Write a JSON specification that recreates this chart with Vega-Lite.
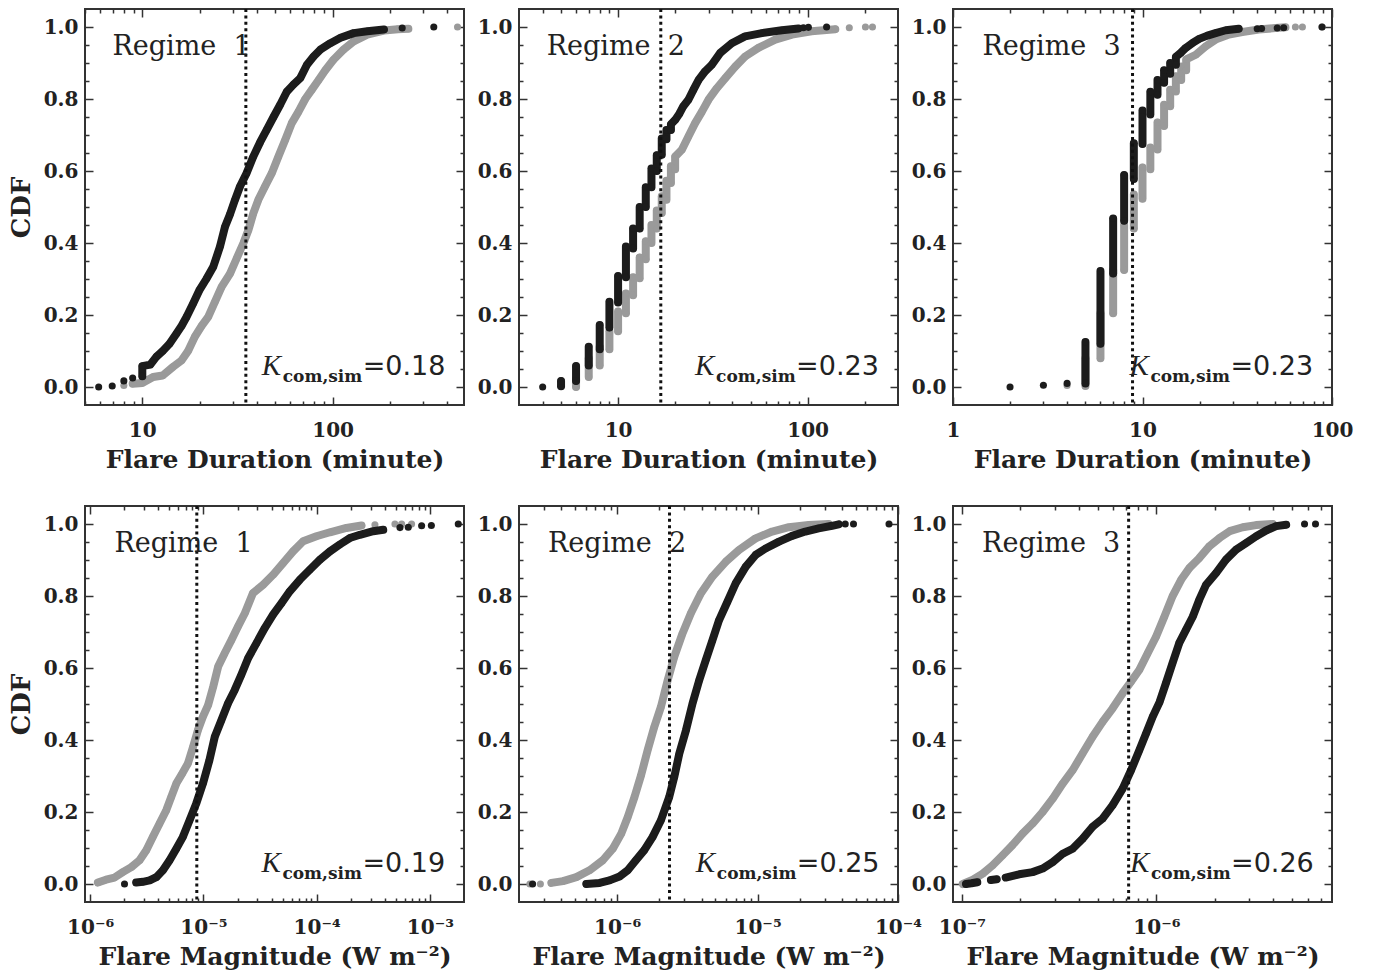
{
"$schema":"https://vega.github.io/schema/vega-lite/v6.json",
"padding":{"left":7,"top":6,"right":5,"bottom":5},
"background":"white",
"columns":3,
"spacing":{"row":101,"column":55},
"bounds":"flush",
"data":{"values":[
{"p":1,"s":"b","r":0,"x":5.9,"y":0},{"p":1,"s":"b","r":0,"x":6.95,"y":0.003},{"p":1,"s":"b","r":0,"x":8,"y":0.017},{"p":1,"s":"b","r":0,"x":8.9,"y":0.025},
{"p":1,"s":"b","r":1,"x":10,"y":0.03},{"p":1,"s":"b","r":1,"x":10,"y":0.058},{"p":1,"s":"b","r":1,"x":11,"y":0.062},{"p":1,"s":"b","r":1,"x":11.9,"y":0.085},{"p":1,"s":"b","r":1,"x":12.8,"y":0.1},{"p":1,"s":"b","r":1,"x":13.9,"y":0.12},{"p":1,"s":"b","r":1,"x":15.1,"y":0.148},{"p":1,"s":"b","r":1,"x":16.1,"y":0.17},{"p":1,"s":"b","r":1,"x":17.1,"y":0.195},{"p":1,"s":"b","r":1,"x":18.5,"y":0.232},{"p":1,"s":"b","r":1,"x":20,"y":0.27},{"p":1,"s":"b","r":1,"x":21.7,"y":0.3},{"p":1,"s":"b","r":1,"x":23.6,"y":0.334},{"p":1,"s":"b","r":1,"x":25.6,"y":0.39},{"p":1,"s":"b","r":1,"x":27.2,"y":0.445},{"p":1,"s":"b","r":1,"x":28.9,"y":0.48},{"p":1,"s":"b","r":1,"x":30.7,"y":0.52},{"p":1,"s":"b","r":1,"x":32.6,"y":0.557},{"p":1,"s":"b","r":1,"x":35.3,"y":0.594},{"p":1,"s":"b","r":1,"x":38.3,"y":0.64},{"p":1,"s":"b","r":1,"x":41.6,"y":0.68},{"p":1,"s":"b","r":1,"x":45.1,"y":0.715},{"p":1,"s":"b","r":1,"x":48.9,"y":0.75},{"p":1,"s":"b","r":1,"x":53,"y":0.784},{"p":1,"s":"b","r":1,"x":57.4,"y":0.82},{"p":1,"s":"b","r":1,"x":62.2,"y":0.84},{"p":1,"s":"b","r":1,"x":67.6,"y":0.858},{"p":1,"s":"b","r":1,"x":73.3,"y":0.895},{"p":1,"s":"b","r":1,"x":79.4,"y":0.918},{"p":1,"s":"b","r":1,"x":86.1,"y":0.937},{"p":1,"s":"b","r":1,"x":97.3,"y":0.955},{"p":1,"s":"b","r":1,"x":110,"y":0.97},{"p":1,"s":"b","r":1,"x":129,"y":0.983},{"p":1,"s":"b","r":1,"x":152,"y":0.988},{"p":1,"s":"b","r":1,"x":186,"y":0.993},
{"p":1,"s":"b","r":0,"x":232,"y":0.997},{"p":1,"s":"b","r":0,"x":340,"y":1},
{"p":1,"s":"g","r":0,"x":8,"y":0.004},
{"p":1,"s":"g","r":1,"x":8.9,"y":0.009},{"p":1,"s":"g","r":1,"x":10,"y":0.011},{"p":1,"s":"g","r":1,"x":11.4,"y":0.028},{"p":1,"s":"g","r":1,"x":12.8,"y":0.032},{"p":1,"s":"g","r":1,"x":14.5,"y":0.056},{"p":1,"s":"g","r":1,"x":16.1,"y":0.074},{"p":1,"s":"g","r":1,"x":17.4,"y":0.1},{"p":1,"s":"g","r":1,"x":18.9,"y":0.14},{"p":1,"s":"g","r":1,"x":20.5,"y":0.17},{"p":1,"s":"g","r":1,"x":22.2,"y":0.195},{"p":1,"s":"g","r":1,"x":24.1,"y":0.237},{"p":1,"s":"g","r":1,"x":26.1,"y":0.278},{"p":1,"s":"g","r":1,"x":28.9,"y":0.315},{"p":1,"s":"g","r":1,"x":31.3,"y":0.357},{"p":1,"s":"g","r":1,"x":34,"y":0.4},{"p":1,"s":"g","r":1,"x":36.1,"y":0.436},{"p":1,"s":"g","r":1,"x":38.3,"y":0.482},{"p":1,"s":"g","r":1,"x":40.7,"y":0.52},{"p":1,"s":"g","r":1,"x":44.1,"y":0.557},{"p":1,"s":"g","r":1,"x":47.9,"y":0.594},{"p":1,"s":"g","r":1,"x":51.9,"y":0.64},{"p":1,"s":"g","r":1,"x":56.3,"y":0.686},{"p":1,"s":"g","r":1,"x":61,"y":0.733},{"p":1,"s":"g","r":1,"x":66.2,"y":0.765},{"p":1,"s":"g","r":1,"x":71.8,"y":0.8},{"p":1,"s":"g","r":1,"x":77.8,"y":0.826},{"p":1,"s":"g","r":1,"x":84.4,"y":0.853},{"p":1,"s":"g","r":1,"x":91.5,"y":0.88},{"p":1,"s":"g","r":1,"x":101,"y":0.909},{"p":1,"s":"g","r":1,"x":114,"y":0.937},{"p":1,"s":"g","r":1,"x":129,"y":0.96},{"p":1,"s":"g","r":1,"x":152,"y":0.979},{"p":1,"s":"g","r":1,"x":186,"y":0.99},{"p":1,"s":"g","r":1,"x":220,"y":0.994},{"p":1,"s":"g","r":1,"x":250,"y":0.995},
{"p":1,"s":"g","r":0,"x":453,"y":1},

{"p":2,"s":"b","r":0,"x":4,"y":0},
{"p":2,"s":"b","r":1,"x":5,"y":0.002},{"p":2,"s":"b","r":1,"x":5,"y":0.017},
{"p":2,"s":"b","r":2,"x":6,"y":0.017},{"p":2,"s":"b","r":2,"x":6,"y":0.058},
{"p":2,"s":"b","r":3,"x":7,"y":0.06},{"p":2,"s":"b","r":3,"x":7,"y":0.112},
{"p":2,"s":"b","r":4,"x":8,"y":0.105},{"p":2,"s":"b","r":4,"x":8,"y":0.172},
{"p":2,"s":"b","r":5,"x":9,"y":0.165},{"p":2,"s":"b","r":5,"x":9,"y":0.237},
{"p":2,"s":"b","r":6,"x":10,"y":0.235},{"p":2,"s":"b","r":6,"x":10,"y":0.308},
{"p":2,"s":"b","r":7,"x":11,"y":0.305},{"p":2,"s":"b","r":7,"x":11,"y":0.39},
{"p":2,"s":"b","r":8,"x":12,"y":0.385},{"p":2,"s":"b","r":8,"x":12,"y":0.44},
{"p":2,"s":"b","r":9,"x":13,"y":0.44},{"p":2,"s":"b","r":9,"x":13,"y":0.5},
{"p":2,"s":"b","r":10,"x":14,"y":0.5},{"p":2,"s":"b","r":10,"x":14,"y":0.555},
{"p":2,"s":"b","r":11,"x":15,"y":0.555},{"p":2,"s":"b","r":11,"x":15,"y":0.607},
{"p":2,"s":"b","r":12,"x":16,"y":0.6},{"p":2,"s":"b","r":12,"x":16,"y":0.644},
{"p":2,"s":"b","r":13,"x":17,"y":0.645},{"p":2,"s":"b","r":13,"x":17,"y":0.69},
{"p":2,"s":"b","r":14,"x":18,"y":0.688},{"p":2,"s":"b","r":14,"x":18,"y":0.714},
{"p":2,"s":"b","r":15,"x":19,"y":0.714},{"p":2,"s":"b","r":15,"x":19,"y":0.73},{"p":2,"s":"b","r":15,"x":20,"y":0.742},{"p":2,"s":"b","r":15,"x":21.1,"y":0.76},{"p":2,"s":"b","r":15,"x":22.1,"y":0.78},{"p":2,"s":"b","r":15,"x":23.5,"y":0.798},{"p":2,"s":"b","r":15,"x":25,"y":0.826},{"p":2,"s":"b","r":15,"x":26.6,"y":0.853},{"p":2,"s":"b","r":15,"x":28.8,"y":0.877},{"p":2,"s":"b","r":15,"x":31.2,"y":0.895},{"p":2,"s":"b","r":15,"x":34.6,"y":0.928},{"p":2,"s":"b","r":15,"x":39.8,"y":0.955},{"p":2,"s":"b","r":15,"x":46.8,"y":0.974},{"p":2,"s":"b","r":15,"x":57.4,"y":0.983},{"p":2,"s":"b","r":15,"x":73.2,"y":0.991},{"p":2,"s":"b","r":15,"x":89.5,"y":0.996},
{"p":2,"s":"b","r":0,"x":95,"y":0.998},{"p":2,"s":"b","r":0,"x":101,"y":0.999},{"p":2,"s":"b","r":0,"x":126,"y":1},
{"p":2,"s":"g","r":1,"x":6,"y":0},{"p":2,"s":"g","r":1,"x":6,"y":0.022},
{"p":2,"s":"g","r":2,"x":7,"y":0.028},{"p":2,"s":"g","r":2,"x":7,"y":0.08},
{"p":2,"s":"g","r":3,"x":8,"y":0.06},{"p":2,"s":"g","r":3,"x":8,"y":0.112},
{"p":2,"s":"g","r":4,"x":9,"y":0.105},{"p":2,"s":"g","r":4,"x":9,"y":0.155},
{"p":2,"s":"g","r":5,"x":10,"y":0.155},{"p":2,"s":"g","r":5,"x":10,"y":0.21},
{"p":2,"s":"g","r":6,"x":11,"y":0.205},{"p":2,"s":"g","r":6,"x":11,"y":0.26},
{"p":2,"s":"g","r":7,"x":12,"y":0.255},{"p":2,"s":"g","r":7,"x":12,"y":0.305},
{"p":2,"s":"g","r":8,"x":13,"y":0.302},{"p":2,"s":"g","r":8,"x":13,"y":0.36},
{"p":2,"s":"g","r":9,"x":14,"y":0.355},{"p":2,"s":"g","r":9,"x":14,"y":0.405},
{"p":2,"s":"g","r":10,"x":15,"y":0.4},{"p":2,"s":"g","r":10,"x":15,"y":0.45},
{"p":2,"s":"g","r":11,"x":16,"y":0.44},{"p":2,"s":"g","r":11,"x":16,"y":0.49},
{"p":2,"s":"g","r":12,"x":17,"y":0.483},{"p":2,"s":"g","r":12,"x":17,"y":0.53},
{"p":2,"s":"g","r":13,"x":18,"y":0.52},{"p":2,"s":"g","r":13,"x":18,"y":0.573},
{"p":2,"s":"g","r":14,"x":19,"y":0.567},{"p":2,"s":"g","r":14,"x":19,"y":0.613},
{"p":2,"s":"g","r":15,"x":20,"y":0.605},{"p":2,"s":"g","r":15,"x":20,"y":0.64},{"p":2,"s":"g","r":15,"x":21.7,"y":0.659},{"p":2,"s":"g","r":15,"x":23.5,"y":0.696},{"p":2,"s":"g","r":15,"x":25.5,"y":0.733},{"p":2,"s":"g","r":15,"x":27.7,"y":0.765},{"p":2,"s":"g","r":15,"x":30,"y":0.798},{"p":2,"s":"g","r":15,"x":33.2,"y":0.83},{"p":2,"s":"g","r":15,"x":36.8,"y":0.858},{"p":2,"s":"g","r":15,"x":41.5,"y":0.89},{"p":2,"s":"g","r":15,"x":46.8,"y":0.918},{"p":2,"s":"g","r":15,"x":55,"y":0.942},{"p":2,"s":"g","r":15,"x":67.5,"y":0.965},{"p":2,"s":"g","r":15,"x":82.8,"y":0.979},{"p":2,"s":"g","r":15,"x":105,"y":0.988},{"p":2,"s":"g","r":15,"x":140,"y":0.994},
{"p":2,"s":"g","r":0,"x":166,"y":0.998},{"p":2,"s":"g","r":0,"x":202,"y":1},{"p":2,"s":"g","r":0,"x":220,"y":1},

{"p":3,"s":"b","r":0,"x":2,"y":0},{"p":3,"s":"b","r":0,"x":3,"y":0.005},{"p":3,"s":"b","r":0,"x":4,"y":0.01},
{"p":3,"s":"b","r":1,"x":5,"y":0.01},{"p":3,"s":"b","r":1,"x":5,"y":0.125},
{"p":3,"s":"b","r":2,"x":6,"y":0.12},{"p":3,"s":"b","r":2,"x":6,"y":0.322},
{"p":3,"s":"b","r":3,"x":7,"y":0.315},{"p":3,"s":"b","r":3,"x":7,"y":0.468},
{"p":3,"s":"b","r":4,"x":8,"y":0.462},{"p":3,"s":"b","r":4,"x":8,"y":0.589},
{"p":3,"s":"b","r":5,"x":9,"y":0.578},{"p":3,"s":"b","r":5,"x":9,"y":0.677},
{"p":3,"s":"b","r":6,"x":10,"y":0.675},{"p":3,"s":"b","r":6,"x":10,"y":0.768},
{"p":3,"s":"b","r":7,"x":11,"y":0.757},{"p":3,"s":"b","r":7,"x":11,"y":0.82},
{"p":3,"s":"b","r":8,"x":12,"y":0.812},{"p":3,"s":"b","r":8,"x":12,"y":0.853},
{"p":3,"s":"b","r":9,"x":13,"y":0.845},{"p":3,"s":"b","r":9,"x":13,"y":0.88},
{"p":3,"s":"b","r":10,"x":14,"y":0.87},{"p":3,"s":"b","r":10,"x":14,"y":0.9},
{"p":3,"s":"b","r":11,"x":15,"y":0.895},{"p":3,"s":"b","r":11,"x":15,"y":0.917},{"p":3,"s":"b","r":11,"x":15.9,"y":0.928},{"p":3,"s":"b","r":11,"x":16.9,"y":0.942},{"p":3,"s":"b","r":11,"x":18.3,"y":0.955},{"p":3,"s":"b","r":11,"x":19.9,"y":0.967},{"p":3,"s":"b","r":11,"x":22,"y":0.976},{"p":3,"s":"b","r":11,"x":24.3,"y":0.983},{"p":3,"s":"b","r":11,"x":27.5,"y":0.991},{"p":3,"s":"b","r":11,"x":32.2,"y":0.995},
{"p":3,"s":"b","r":0,"x":40.3,"y":0.995},{"p":3,"s":"b","r":0,"x":42.5,"y":0.996},{"p":3,"s":"b","r":0,"x":51.4,"y":0.997},{"p":3,"s":"b","r":0,"x":55.6,"y":0.998},{"p":3,"s":"b","r":0,"x":88.6,"y":1},
{"p":3,"s":"g","r":0,"x":4,"y":0.004},
{"p":3,"s":"g","r":1,"x":5,"y":0.003},{"p":3,"s":"g","r":1,"x":5,"y":0.08},
{"p":3,"s":"g","r":2,"x":6,"y":0.08},{"p":3,"s":"g","r":2,"x":6,"y":0.205},
{"p":3,"s":"g","r":3,"x":7,"y":0.205},{"p":3,"s":"g","r":3,"x":7,"y":0.325},
{"p":3,"s":"g","r":4,"x":8,"y":0.325},{"p":3,"s":"g","r":4,"x":8,"y":0.45},
{"p":3,"s":"g","r":5,"x":9,"y":0.44},{"p":3,"s":"g","r":5,"x":9,"y":0.535},
{"p":3,"s":"g","r":6,"x":10,"y":0.523},{"p":3,"s":"g","r":6,"x":10,"y":0.61},
{"p":3,"s":"g","r":7,"x":11,"y":0.605},{"p":3,"s":"g","r":7,"x":11,"y":0.665},
{"p":3,"s":"g","r":8,"x":12,"y":0.66},{"p":3,"s":"g","r":8,"x":12,"y":0.735},
{"p":3,"s":"g","r":9,"x":13,"y":0.725},{"p":3,"s":"g","r":9,"x":13,"y":0.784},
{"p":3,"s":"g","r":10,"x":14,"y":0.78},{"p":3,"s":"g","r":10,"x":14,"y":0.826},
{"p":3,"s":"g","r":11,"x":15,"y":0.821},{"p":3,"s":"g","r":11,"x":15,"y":0.863},
{"p":3,"s":"g","r":12,"x":16,"y":0.853},{"p":3,"s":"g","r":12,"x":16,"y":0.89},
{"p":3,"s":"g","r":13,"x":17,"y":0.88},{"p":3,"s":"g","r":13,"x":17,"y":0.91},{"p":3,"s":"g","r":13,"x":19.1,"y":0.923},{"p":3,"s":"g","r":13,"x":21.5,"y":0.946},{"p":3,"s":"g","r":13,"x":24.3,"y":0.965},{"p":3,"s":"g","r":13,"x":28.6,"y":0.979},{"p":3,"s":"g","r":13,"x":33.6,"y":0.986},{"p":3,"s":"g","r":13,"x":41.1,"y":0.993},{"p":3,"s":"g","r":13,"x":50.3,"y":0.997},{"p":3,"s":"g","r":13,"x":56.8,"y":0.999},
{"p":3,"s":"g","r":0,"x":64.1,"y":1},{"p":3,"s":"g","r":0,"x":69.8,"y":1},{"p":3,"s":"g","r":0,"x":88.6,"y":1},

{"p":4,"s":"g","r":1,"x":1.17e-6,"y":0.004},{"p":4,"s":"g","r":1,"x":1.38e-6,"y":0.012},{"p":4,"s":"g","r":1,"x":1.64e-6,"y":0.018},{"p":4,"s":"g","r":1,"x":1.94e-6,"y":0.033},{"p":4,"s":"g","r":1,"x":2.31e-6,"y":0.047},{"p":4,"s":"g","r":1,"x":2.73e-6,"y":0.066},{"p":4,"s":"g","r":1,"x":3.13e-6,"y":0.094},{"p":4,"s":"g","r":1,"x":3.58e-6,"y":0.131},{"p":4,"s":"g","r":1,"x":4.1e-6,"y":0.168},{"p":4,"s":"g","r":1,"x":4.7e-6,"y":0.205},{"p":4,"s":"g","r":1,"x":5.2e-6,"y":0.242},{"p":4,"s":"g","r":1,"x":5.76e-6,"y":0.279},{"p":4,"s":"g","r":1,"x":6.5e-6,"y":0.307},{"p":4,"s":"g","r":1,"x":7.3e-6,"y":0.335},{"p":4,"s":"g","r":1,"x":8.1e-6,"y":0.381},{"p":4,"s":"g","r":1,"x":8.96e-6,"y":0.428},{"p":4,"s":"g","r":1,"x":9.9e-6,"y":0.465},{"p":4,"s":"g","r":1,"x":1.1e-5,"y":0.497},{"p":4,"s":"g","r":1,"x":1.22e-5,"y":0.548},{"p":4,"s":"g","r":1,"x":1.35e-5,"y":0.604},{"p":4,"s":"g","r":1,"x":1.54e-5,"y":0.641},{"p":4,"s":"g","r":1,"x":1.77e-5,"y":0.678},{"p":4,"s":"g","r":1,"x":2.02e-5,"y":0.715},{"p":4,"s":"g","r":1,"x":2.32e-5,"y":0.752},{"p":4,"s":"g","r":1,"x":2.74e-5,"y":0.808},{"p":4,"s":"g","r":1,"x":3.36e-5,"y":0.831},{"p":4,"s":"g","r":1,"x":4.12e-5,"y":0.859},{"p":4,"s":"g","r":1,"x":5.05e-5,"y":0.891},{"p":4,"s":"g","r":1,"x":6.19e-5,"y":0.924},{"p":4,"s":"g","r":1,"x":7.59e-5,"y":0.952},{"p":4,"s":"g","r":1,"x":9.95e-5,"y":0.966},{"p":4,"s":"g","r":1,"x":1.31e-4,"y":0.977},{"p":4,"s":"g","r":1,"x":1.83e-4,"y":0.989},{"p":4,"s":"g","r":1,"x":2.49e-4,"y":0.996},
{"p":4,"s":"g","r":0,"x":3.27e-4,"y":0.998},{"p":4,"s":"g","r":0,"x":4.91e-4,"y":1},{"p":4,"s":"g","r":0,"x":5.63e-4,"y":1},{"p":4,"s":"g","r":0,"x":6.89e-4,"y":1},
{"p":4,"s":"b","r":0,"x":2.01e-6,"y":0},
{"p":4,"s":"b","r":1,"x":2.55e-6,"y":0.004},{"p":4,"s":"b","r":1,"x":2.92e-6,"y":0.006},{"p":4,"s":"b","r":1,"x":3.35e-6,"y":0.01},{"p":4,"s":"b","r":1,"x":3.84e-6,"y":0.019},{"p":4,"s":"b","r":1,"x":4.39e-6,"y":0.038},{"p":4,"s":"b","r":1,"x":5.03e-6,"y":0.066},{"p":4,"s":"b","r":1,"x":5.76e-6,"y":0.098},{"p":4,"s":"b","r":1,"x":6.59e-6,"y":0.131},{"p":4,"s":"b","r":1,"x":7.55e-6,"y":0.177},{"p":4,"s":"b","r":1,"x":8.65e-6,"y":0.224},{"p":4,"s":"b","r":1,"x":9.9e-6,"y":0.279},{"p":4,"s":"b","r":1,"x":1.13e-5,"y":0.344},{"p":4,"s":"b","r":1,"x":1.26e-5,"y":0.409},{"p":4,"s":"b","r":1,"x":1.44e-5,"y":0.455},{"p":4,"s":"b","r":1,"x":1.65e-5,"y":0.502},{"p":4,"s":"b","r":1,"x":1.89e-5,"y":0.539},{"p":4,"s":"b","r":1,"x":2.16e-5,"y":0.581},{"p":4,"s":"b","r":1,"x":2.48e-5,"y":0.627},{"p":4,"s":"b","r":1,"x":2.94e-5,"y":0.669},{"p":4,"s":"b","r":1,"x":3.48e-5,"y":0.711},{"p":4,"s":"b","r":1,"x":4.12e-5,"y":0.748},{"p":4,"s":"b","r":1,"x":4.89e-5,"y":0.78},{"p":4,"s":"b","r":1,"x":5.79e-5,"y":0.813},{"p":4,"s":"b","r":1,"x":7.09e-5,"y":0.845},{"p":4,"s":"b","r":1,"x":8.69e-5,"y":0.873},{"p":4,"s":"b","r":1,"x":1.07e-4,"y":0.901},{"p":4,"s":"b","r":1,"x":1.31e-4,"y":0.924},{"p":4,"s":"b","r":1,"x":1.6e-4,"y":0.943},{"p":4,"s":"b","r":1,"x":1.96e-4,"y":0.961},{"p":4,"s":"b","r":1,"x":2.41e-4,"y":0.97},{"p":4,"s":"b","r":1,"x":3.16e-4,"y":0.98},{"p":4,"s":"b","r":1,"x":3.87e-4,"y":0.984},
{"p":4,"s":"b","r":0,"x":5.44e-4,"y":0.99},{"p":4,"s":"b","r":0,"x":6.44e-4,"y":0.991},{"p":4,"s":"b","r":0,"x":8.45e-4,"y":0.995},{"p":4,"s":"b","r":0,"x":1.03e-3,"y":0.996},{"p":4,"s":"b","r":0,"x":1.78e-3,"y":1},

{"p":5,"s":"g","r":0,"x":2.39e-7,"y":0},{"p":5,"s":"g","r":0,"x":2.84e-7,"y":0},
{"p":5,"s":"g","r":1,"x":3.4e-7,"y":0.003},{"p":5,"s":"g","r":1,"x":4.12e-7,"y":0.008},{"p":5,"s":"g","r":1,"x":5.12e-7,"y":0.019},{"p":5,"s":"g","r":1,"x":6.36e-7,"y":0.038},{"p":5,"s":"g","r":1,"x":7.91e-7,"y":0.066},{"p":5,"s":"g","r":1,"x":9.31e-7,"y":0.098},{"p":5,"s":"g","r":1,"x":1.07e-6,"y":0.14},{"p":5,"s":"g","r":1,"x":1.19e-6,"y":0.186},{"p":5,"s":"g","r":1,"x":1.33e-6,"y":0.242},{"p":5,"s":"g","r":1,"x":1.48e-6,"y":0.302},{"p":5,"s":"g","r":1,"x":1.65e-6,"y":0.372},{"p":5,"s":"g","r":1,"x":1.84e-6,"y":0.437},{"p":5,"s":"g","r":1,"x":2.05e-6,"y":0.492},{"p":5,"s":"g","r":1,"x":2.29e-6,"y":0.566},{"p":5,"s":"g","r":1,"x":2.55e-6,"y":0.631},{"p":5,"s":"g","r":1,"x":2.92e-6,"y":0.696},{"p":5,"s":"g","r":1,"x":3.35e-6,"y":0.752},{"p":5,"s":"g","r":1,"x":3.94e-6,"y":0.807},{"p":5,"s":"g","r":1,"x":4.77e-6,"y":0.854},{"p":5,"s":"g","r":1,"x":5.93e-6,"y":0.895},{"p":5,"s":"g","r":1,"x":7.37e-6,"y":0.928},{"p":5,"s":"g","r":1,"x":9.68e-6,"y":0.96},{"p":5,"s":"g","r":1,"x":1.27e-5,"y":0.979},{"p":5,"s":"g","r":1,"x":1.67e-5,"y":0.991},{"p":5,"s":"g","r":1,"x":2.31e-5,"y":0.997},{"p":5,"s":"g","r":1,"x":3.21e-5,"y":1},
{"p":5,"s":"b","r":0,"x":2.5e-7,"y":0},
{"p":5,"s":"b","r":1,"x":6.03e-7,"y":0},{"p":5,"s":"b","r":1,"x":7.5e-7,"y":0.003},{"p":5,"s":"b","r":1,"x":8.82e-7,"y":0.01},{"p":5,"s":"b","r":1,"x":1.04e-6,"y":0.021},{"p":5,"s":"b","r":1,"x":1.19e-6,"y":0.038},{"p":5,"s":"b","r":1,"x":1.36e-6,"y":0.066},{"p":5,"s":"b","r":1,"x":1.56e-6,"y":0.094},{"p":5,"s":"b","r":1,"x":1.79e-6,"y":0.131},{"p":5,"s":"b","r":1,"x":2.05e-6,"y":0.177},{"p":5,"s":"b","r":1,"x":2.35e-6,"y":0.242},{"p":5,"s":"b","r":1,"x":2.55e-6,"y":0.297},{"p":5,"s":"b","r":1,"x":2.77e-6,"y":0.362},{"p":5,"s":"b","r":1,"x":3.09e-6,"y":0.427},{"p":5,"s":"b","r":1,"x":3.44e-6,"y":0.501},{"p":5,"s":"b","r":1,"x":3.84e-6,"y":0.566},{"p":5,"s":"b","r":1,"x":4.28e-6,"y":0.622},{"p":5,"s":"b","r":1,"x":4.77e-6,"y":0.677},{"p":5,"s":"b","r":1,"x":5.32e-6,"y":0.733},{"p":5,"s":"b","r":1,"x":6.1e-6,"y":0.784},{"p":5,"s":"b","r":1,"x":6.98e-6,"y":0.835},{"p":5,"s":"b","r":1,"x":8.22e-6,"y":0.881},{"p":5,"s":"b","r":1,"x":9.68e-6,"y":0.914},{"p":5,"s":"b","r":1,"x":1.14e-5,"y":0.932},{"p":5,"s":"b","r":1,"x":1.42e-5,"y":0.951},{"p":5,"s":"b","r":1,"x":1.76e-5,"y":0.967},{"p":5,"s":"b","r":1,"x":2.19e-5,"y":0.979},{"p":5,"s":"b","r":1,"x":2.72e-5,"y":0.988},{"p":5,"s":"b","r":1,"x":3.39e-5,"y":0.995},{"p":5,"s":"b","r":1,"x":3.78e-5,"y":0.999},
{"p":5,"s":"b","r":0,"x":4.21e-5,"y":1},{"p":5,"s":"b","r":0,"x":4.82e-5,"y":1},{"p":5,"s":"b","r":0,"x":8.63e-5,"y":1},

{"p":6,"s":"g","r":1,"x":1.01e-7,"y":0},{"p":6,"s":"g","r":1,"x":1.14e-7,"y":0.012},{"p":6,"s":"g","r":1,"x":1.28e-7,"y":0.029},{"p":6,"s":"g","r":1,"x":1.44e-7,"y":0.052},{"p":6,"s":"g","r":1,"x":1.62e-7,"y":0.08},{"p":6,"s":"g","r":1,"x":1.82e-7,"y":0.108},{"p":6,"s":"g","r":1,"x":2.05e-7,"y":0.14},{"p":6,"s":"g","r":1,"x":2.31e-7,"y":0.168},{"p":6,"s":"g","r":1,"x":2.6e-7,"y":0.2},{"p":6,"s":"g","r":1,"x":2.93e-7,"y":0.237},{"p":6,"s":"g","r":1,"x":3.3e-7,"y":0.279},{"p":6,"s":"g","r":1,"x":3.71e-7,"y":0.316},{"p":6,"s":"g","r":1,"x":4.18e-7,"y":0.363},{"p":6,"s":"g","r":1,"x":4.7e-7,"y":0.409},{"p":6,"s":"g","r":1,"x":5.3e-7,"y":0.451},{"p":6,"s":"g","r":1,"x":5.96e-7,"y":0.488},{"p":6,"s":"g","r":1,"x":6.71e-7,"y":0.53},{"p":6,"s":"g","r":1,"x":7.41e-7,"y":0.562},{"p":6,"s":"g","r":1,"x":8.18e-7,"y":0.595},{"p":6,"s":"g","r":1,"x":9.02e-7,"y":0.641},{"p":6,"s":"g","r":1,"x":9.96e-7,"y":0.687},{"p":6,"s":"g","r":1,"x":1.1e-6,"y":0.743},{"p":6,"s":"g","r":1,"x":1.21e-6,"y":0.799},{"p":6,"s":"g","r":1,"x":1.34e-6,"y":0.845},{"p":6,"s":"g","r":1,"x":1.48e-6,"y":0.878},{"p":6,"s":"g","r":1,"x":1.66e-6,"y":0.905},{"p":6,"s":"g","r":1,"x":1.87e-6,"y":0.938},{"p":6,"s":"g","r":1,"x":2.11e-6,"y":0.961},{"p":6,"s":"g","r":1,"x":2.38e-6,"y":0.98},{"p":6,"s":"g","r":1,"x":2.78e-6,"y":0.991},{"p":6,"s":"g","r":1,"x":3.26e-6,"y":0.997},{"p":6,"s":"g","r":1,"x":3.97e-6,"y":1},
{"p":6,"s":"b","r":1,"x":1.05e-7,"y":0},{"p":6,"s":"b","r":1,"x":1.12e-7,"y":0.002},{"p":6,"s":"b","r":1,"x":1.2e-7,"y":0.005},
{"p":6,"s":"b","r":2,"x":1.41e-7,"y":0.011},{"p":6,"s":"b","r":2,"x":1.51e-7,"y":0.013},
{"p":6,"s":"b","r":3,"x":1.68e-7,"y":0.018},{"p":6,"s":"b","r":3,"x":1.97e-7,"y":0.027},{"p":6,"s":"b","r":3,"x":2.31e-7,"y":0.033},{"p":6,"s":"b","r":3,"x":2.6e-7,"y":0.043},{"p":6,"s":"b","r":3,"x":2.93e-7,"y":0.061},{"p":6,"s":"b","r":3,"x":3.3e-7,"y":0.084},{"p":6,"s":"b","r":3,"x":3.71e-7,"y":0.098},{"p":6,"s":"b","r":3,"x":4.18e-7,"y":0.126},{"p":6,"s":"b","r":3,"x":4.7e-7,"y":0.159},{"p":6,"s":"b","r":3,"x":5.3e-7,"y":0.182},{"p":6,"s":"b","r":3,"x":5.96e-7,"y":0.219},{"p":6,"s":"b","r":3,"x":6.71e-7,"y":0.265},{"p":6,"s":"b","r":3,"x":7.41e-7,"y":0.316},{"p":6,"s":"b","r":3,"x":8.18e-7,"y":0.372},{"p":6,"s":"b","r":3,"x":8.85e-7,"y":0.418},{"p":6,"s":"b","r":3,"x":9.58e-7,"y":0.465},{"p":6,"s":"b","r":3,"x":1.04e-6,"y":0.506},{"p":6,"s":"b","r":3,"x":1.12e-6,"y":0.558},{"p":6,"s":"b","r":3,"x":1.21e-6,"y":0.613},{"p":6,"s":"b","r":3,"x":1.31e-6,"y":0.669},{"p":6,"s":"b","r":3,"x":1.42e-6,"y":0.706},{"p":6,"s":"b","r":3,"x":1.54e-6,"y":0.743},{"p":6,"s":"b","r":3,"x":1.66e-6,"y":0.789},{"p":6,"s":"b","r":3,"x":1.8e-6,"y":0.831},{"p":6,"s":"b","r":3,"x":2.03e-6,"y":0.864},{"p":6,"s":"b","r":3,"x":2.28e-6,"y":0.901},{"p":6,"s":"b","r":3,"x":2.57e-6,"y":0.929},{"p":6,"s":"b","r":3,"x":2.89e-6,"y":0.947},{"p":6,"s":"b","r":3,"x":3.26e-6,"y":0.966},{"p":6,"s":"b","r":3,"x":3.67e-6,"y":0.982},{"p":6,"s":"b","r":3,"x":4.13e-6,"y":0.994},{"p":6,"s":"b","r":3,"x":4.65e-6,"y":0.998},
{"p":6,"s":"b","r":0,"x":5.78e-6,"y":1},{"p":6,"s":"b","r":0,"x":6.58e-6,"y":1}
]},
"concat":[
{"width":379,"height":396,"resolve":{"axis":{"x":"independent","y":"independent"}},
"layer":[
{"transform":[{"filter":"datum.p==1&&datum.s=='g'&&datum.r>0"}],"mark":{"type":"line","color":"#9a9a9a","strokeWidth":8,"strokeCap":"round","strokeJoin":"round"},
"encoding":{"x":{"field":"x","type":"quantitative","scale":{"type":"log","domain":[5,490],"nice":false},"axis":{"orient":"bottom","values":[10,100],"format":"d","tickSize":-8,"labelPadding":23,"title":"Flare Duration (minute)","titlePadding":7}},
"y":{"field":"y","type":"quantitative","scale":{"domain":[-0.05,1.05],"nice":false,"zero":false},"axis":{"orient":"left","values":[0,0.2,0.4,0.6,0.8,1],"format":".1f","tickSize":-8,"labelPadding":15,"title":"CDF","titlePadding":9,"titleFontSize":26}},
"detail":{"field":"r"},"order":{"field":"y"}}},
{"transform":[{"filter":"datum.p==1&&datum.s=='g'"}],"mark":{"type":"circle","color":"#9a9a9a","size":50,"opacity":1},
"encoding":{"x":{"field":"x","type":"quantitative","axis":{"orient":"bottom","values":[5,6,7,8,9,20,30,40,50,60,70,80,90,200,300,400],"labels":false,"tickSize":-4,"title":null}},
"y":{"field":"y","type":"quantitative","axis":{"orient":"left","values":[0.05,0.1,0.15,0.25,0.3,0.35,0.45,0.5,0.55,0.65,0.7,0.75,0.85,0.9,0.95],"labels":false,"tickSize":-4,"title":null}}}},
{"transform":[{"filter":"datum.p==1&&datum.s=='b'&&datum.r>0"}],"mark":{"type":"line","color":"#1c1c1c","strokeWidth":8,"strokeCap":"round","strokeJoin":"round"},
"encoding":{"x":{"field":"x","type":"quantitative","axis":{"orient":"top","values":[10,100],"labels":false,"tickSize":-8,"title":null}},
"y":{"field":"y","type":"quantitative","axis":{"orient":"right","values":[0,0.2,0.4,0.6,0.8,1],"labels":false,"tickSize":-8,"title":null}},
"detail":{"field":"r"},"order":{"field":"y"}}},
{"transform":[{"filter":"datum.p==1&&datum.s=='b'"}],"mark":{"type":"circle","color":"#1c1c1c","size":50,"opacity":1},
"encoding":{"x":{"field":"x","type":"quantitative","axis":{"orient":"top","values":[5,6,7,8,9,20,30,40,50,60,70,80,90,200,300,400],"labels":false,"tickSize":-4,"title":null}},
"y":{"field":"y","type":"quantitative","axis":{"orient":"right","values":[0.05,0.1,0.15,0.25,0.3,0.35,0.45,0.5,0.55,0.65,0.7,0.75,0.85,0.9,0.95],"labels":false,"tickSize":-4,"title":null}}}},
{"data":{"values":[{}]},"mark":{"type":"rule","strokeDash":[3,3.4],"strokeWidth":3,"color":"#111"},"encoding":{"x":{"datum":35,"type":"quantitative","axis":null}}},
{"data":{"values":[{}]},"mark":{"type":"text","text":"Regime\u00a0\u00a01","font":"DejaVu Serif","fontSize":27,"align":"left","baseline":"alphabetic","color":"#222"},"encoding":{"x":{"datum":6.97,"type":"quantitative","axis":null},"y":{"datum":0.922,"type":"quantitative","axis":null}}},
{"data":{"values":[{}]},"mark":{"type":"text","text":"K","font":"Liberation Serif","fontStyle":"italic","fontSize":29,"align":"left","baseline":"alphabetic","color":"#222"},"encoding":{"x":{"datum":42.4,"type":"quantitative","axis":null},"y":{"datum":0.033,"type":"quantitative","axis":null}}},
{"data":{"values":[{}]},"mark":{"type":"text","text":"com,sim","font":"DejaVu Serif","fontWeight":"bold","fontSize":17,"align":"left","baseline":"alphabetic","dx":21,"dy":7,"color":"#222"},"encoding":{"x":{"datum":42.4,"type":"quantitative","axis":null},"y":{"datum":0.033,"type":"quantitative","axis":null}}},
{"data":{"values":[{}]},"mark":{"type":"text","text":"=0.18","font":"DejaVu Sans","fontSize":27,"align":"left","baseline":"alphabetic","dx":101,"color":"#222"},"encoding":{"x":{"datum":42.4,"type":"quantitative","axis":null},"y":{"datum":0.033,"type":"quantitative","axis":null}}}
]},
{"width":379,"height":396,"resolve":{"axis":{"x":"independent","y":"independent"}},
"layer":[
{"transform":[{"filter":"datum.p==2&&datum.s=='g'&&datum.r>0"}],"mark":{"type":"line","color":"#9a9a9a","strokeWidth":8,"strokeCap":"round","strokeJoin":"round"},
"encoding":{"x":{"field":"x","type":"quantitative","scale":{"type":"log","domain":[3,300],"nice":false},"axis":{"orient":"bottom","values":[10,100],"format":"d","tickSize":-8,"labelPadding":23,"title":"Flare Duration (minute)","titlePadding":7}},
"y":{"field":"y","type":"quantitative","scale":{"domain":[-0.05,1.05],"nice":false,"zero":false},"axis":{"orient":"left","values":[0,0.2,0.4,0.6,0.8,1],"format":".1f","tickSize":-8,"labelPadding":15,"title":null}},
"detail":{"field":"r"},"order":{"field":"y"}}},
{"transform":[{"filter":"datum.p==2&&datum.s=='g'"}],"mark":{"type":"circle","color":"#9a9a9a","size":50,"opacity":1},
"encoding":{"x":{"field":"x","type":"quantitative","axis":{"orient":"bottom","values":[4,5,6,7,8,9,20,30,40,50,60,70,80,90,200],"labels":false,"tickSize":-4,"title":null}},
"y":{"field":"y","type":"quantitative","axis":{"orient":"left","values":[0.05,0.1,0.15,0.25,0.3,0.35,0.45,0.5,0.55,0.65,0.7,0.75,0.85,0.9,0.95],"labels":false,"tickSize":-4,"title":null}}}},
{"transform":[{"filter":"datum.p==2&&datum.s=='b'&&datum.r>0"}],"mark":{"type":"line","color":"#1c1c1c","strokeWidth":8,"strokeCap":"round","strokeJoin":"round"},
"encoding":{"x":{"field":"x","type":"quantitative","axis":{"orient":"top","values":[10,100],"labels":false,"tickSize":-8,"title":null}},
"y":{"field":"y","type":"quantitative","axis":{"orient":"right","values":[0,0.2,0.4,0.6,0.8,1],"labels":false,"tickSize":-8,"title":null}},
"detail":{"field":"r"},"order":{"field":"y"}}},
{"transform":[{"filter":"datum.p==2&&datum.s=='b'"}],"mark":{"type":"circle","color":"#1c1c1c","size":50,"opacity":1},
"encoding":{"x":{"field":"x","type":"quantitative","axis":{"orient":"top","values":[4,5,6,7,8,9,20,30,40,50,60,70,80,90,200],"labels":false,"tickSize":-4,"title":null}},
"y":{"field":"y","type":"quantitative","axis":{"orient":"right","values":[0.05,0.1,0.15,0.25,0.3,0.35,0.45,0.5,0.55,0.65,0.7,0.75,0.85,0.9,0.95],"labels":false,"tickSize":-4,"title":null}}}},
{"data":{"values":[{}]},"mark":{"type":"rule","strokeDash":[3,3.4],"strokeWidth":3,"color":"#111"},"encoding":{"x":{"datum":16.8,"type":"quantitative","axis":null}}},
{"data":{"values":[{}]},"mark":{"type":"text","text":"Regime\u00a0\u00a02","font":"DejaVu Serif","fontSize":27,"align":"left","baseline":"alphabetic","color":"#222"},"encoding":{"x":{"datum":4.2,"type":"quantitative","axis":null},"y":{"datum":0.922,"type":"quantitative","axis":null}}},
{"data":{"values":[{}]},"mark":{"type":"text","text":"K","font":"Liberation Serif","fontStyle":"italic","fontSize":29,"align":"left","baseline":"alphabetic","color":"#222"},"encoding":{"x":{"datum":25.5,"type":"quantitative","axis":null},"y":{"datum":0.033,"type":"quantitative","axis":null}}},
{"data":{"values":[{}]},"mark":{"type":"text","text":"com,sim","font":"DejaVu Serif","fontWeight":"bold","fontSize":17,"align":"left","baseline":"alphabetic","dx":21,"dy":7,"color":"#222"},"encoding":{"x":{"datum":25.5,"type":"quantitative","axis":null},"y":{"datum":0.033,"type":"quantitative","axis":null}}},
{"data":{"values":[{}]},"mark":{"type":"text","text":"=0.23","font":"DejaVu Sans","fontSize":27,"align":"left","baseline":"alphabetic","dx":101,"color":"#222"},"encoding":{"x":{"datum":25.5,"type":"quantitative","axis":null},"y":{"datum":0.033,"type":"quantitative","axis":null}}}
]},
{"width":379,"height":396,"resolve":{"axis":{"x":"independent","y":"independent"}},
"layer":[
{"transform":[{"filter":"datum.p==3&&datum.s=='g'&&datum.r>0"}],"mark":{"type":"line","color":"#9a9a9a","strokeWidth":8,"strokeCap":"round","strokeJoin":"round"},
"encoding":{"x":{"field":"x","type":"quantitative","scale":{"type":"log","domain":[1,100],"nice":false},"axis":{"orient":"bottom","values":[1,10,100],"format":"d","tickSize":-8,"labelPadding":23,"title":"Flare Duration (minute)","titlePadding":7}},
"y":{"field":"y","type":"quantitative","scale":{"domain":[-0.05,1.05],"nice":false,"zero":false},"axis":{"orient":"left","values":[0,0.2,0.4,0.6,0.8,1],"format":".1f","tickSize":-8,"labelPadding":15,"title":null}},
"detail":{"field":"r"},"order":{"field":"y"}}},
{"transform":[{"filter":"datum.p==3&&datum.s=='g'"}],"mark":{"type":"circle","color":"#9a9a9a","size":50,"opacity":1},
"encoding":{"x":{"field":"x","type":"quantitative","axis":{"orient":"bottom","values":[2,3,4,5,6,7,8,9,20,30,40,50,60,70,80,90],"labels":false,"tickSize":-4,"title":null}},
"y":{"field":"y","type":"quantitative","axis":{"orient":"left","values":[0.05,0.1,0.15,0.25,0.3,0.35,0.45,0.5,0.55,0.65,0.7,0.75,0.85,0.9,0.95],"labels":false,"tickSize":-4,"title":null}}}},
{"transform":[{"filter":"datum.p==3&&datum.s=='b'&&datum.r>0"}],"mark":{"type":"line","color":"#1c1c1c","strokeWidth":8,"strokeCap":"round","strokeJoin":"round"},
"encoding":{"x":{"field":"x","type":"quantitative","axis":{"orient":"top","values":[1,10,100],"labels":false,"tickSize":-8,"title":null}},
"y":{"field":"y","type":"quantitative","axis":{"orient":"right","values":[0,0.2,0.4,0.6,0.8,1],"labels":false,"tickSize":-8,"title":null}},
"detail":{"field":"r"},"order":{"field":"y"}}},
{"transform":[{"filter":"datum.p==3&&datum.s=='b'"}],"mark":{"type":"circle","color":"#1c1c1c","size":50,"opacity":1},
"encoding":{"x":{"field":"x","type":"quantitative","axis":{"orient":"top","values":[2,3,4,5,6,7,8,9,20,30,40,50,60,70,80,90],"labels":false,"tickSize":-4,"title":null}},
"y":{"field":"y","type":"quantitative","axis":{"orient":"right","values":[0.05,0.1,0.15,0.25,0.3,0.35,0.45,0.5,0.55,0.65,0.7,0.75,0.85,0.9,0.95],"labels":false,"tickSize":-4,"title":null}}}},
{"data":{"values":[{}]},"mark":{"type":"rule","strokeDash":[3,3.4],"strokeWidth":3,"color":"#111"},"encoding":{"x":{"datum":8.86,"type":"quantitative","axis":null}}},
{"data":{"values":[{}]},"mark":{"type":"text","text":"Regime\u00a0\u00a03","font":"DejaVu Serif","fontSize":27,"align":"left","baseline":"alphabetic","color":"#222"},"encoding":{"x":{"datum":1.43,"type":"quantitative","axis":null},"y":{"datum":0.922,"type":"quantitative","axis":null}}},
{"data":{"values":[{}]},"mark":{"type":"text","text":"K","font":"Liberation Serif","fontStyle":"italic","fontSize":29,"align":"left","baseline":"alphabetic","color":"#222"},"encoding":{"x":{"datum":8.53,"type":"quantitative","axis":null},"y":{"datum":0.033,"type":"quantitative","axis":null}}},
{"data":{"values":[{}]},"mark":{"type":"text","text":"com,sim","font":"DejaVu Serif","fontWeight":"bold","fontSize":17,"align":"left","baseline":"alphabetic","dx":21,"dy":7,"color":"#222"},"encoding":{"x":{"datum":8.53,"type":"quantitative","axis":null},"y":{"datum":0.033,"type":"quantitative","axis":null}}},
{"data":{"values":[{}]},"mark":{"type":"text","text":"=0.23","font":"DejaVu Sans","fontSize":27,"align":"left","baseline":"alphabetic","dx":101,"color":"#222"},"encoding":{"x":{"datum":8.53,"type":"quantitative","axis":null},"y":{"datum":0.033,"type":"quantitative","axis":null}}}
]},
{"width":379,"height":396,"resolve":{"axis":{"x":"independent","y":"independent"}},
"layer":[
{"transform":[{"filter":"datum.p==4&&datum.s=='g'&&datum.r>0"}],"mark":{"type":"line","color":"#9a9a9a","strokeWidth":8,"strokeCap":"round","strokeJoin":"round"},
"encoding":{"x":{"field":"x","type":"quantitative","scale":{"type":"log","domain":[9e-7,2e-3],"nice":false},"axis":{"orient":"bottom","values":[1e-6,1e-5,1e-4,1e-3],"labelExpr":"datum.value < 5e-7 ? '10⁻⁷' : datum.value < 5e-6 ? '10⁻⁶' : datum.value < 5e-5 ? '10⁻⁵' : datum.value < 5e-4 ? '10⁻⁴' : '10⁻³'","tickSize":-8,"labelPadding":23,"title":"Flare Magnitude (W m⁻²)","titlePadding":7}},
"y":{"field":"y","type":"quantitative","scale":{"domain":[-0.05,1.05],"nice":false,"zero":false},"axis":{"orient":"left","values":[0,0.2,0.4,0.6,0.8,1],"format":".1f","tickSize":-8,"labelPadding":15,"title":"CDF","titlePadding":9,"titleFontSize":26}},
"detail":{"field":"r"},"order":{"field":"y"}}},
{"transform":[{"filter":"datum.p==4&&datum.s=='g'"}],"mark":{"type":"circle","color":"#9a9a9a","size":50,"opacity":1},
"encoding":{"x":{"field":"x","type":"quantitative","axis":{"orient":"bottom","values":[2e-6,3e-6,4e-6,5e-6,6e-6,7e-6,8e-6,9e-6,2e-5,3e-5,4e-5,5e-5,6e-5,7e-5,8e-5,9e-5,2e-4,3e-4,4e-4,5e-4,6e-4,7e-4,8e-4,9e-4],"labels":false,"tickSize":-4,"title":null}},
"y":{"field":"y","type":"quantitative","axis":{"orient":"left","values":[0.05,0.1,0.15,0.25,0.3,0.35,0.45,0.5,0.55,0.65,0.7,0.75,0.85,0.9,0.95],"labels":false,"tickSize":-4,"title":null}}}},
{"transform":[{"filter":"datum.p==4&&datum.s=='b'&&datum.r>0"}],"mark":{"type":"line","color":"#1c1c1c","strokeWidth":8,"strokeCap":"round","strokeJoin":"round"},
"encoding":{"x":{"field":"x","type":"quantitative","axis":{"orient":"top","values":[1e-6,1e-5,1e-4,1e-3],"labels":false,"tickSize":-8,"title":null}},
"y":{"field":"y","type":"quantitative","axis":{"orient":"right","values":[0,0.2,0.4,0.6,0.8,1],"labels":false,"tickSize":-8,"title":null}},
"detail":{"field":"r"},"order":{"field":"y"}}},
{"transform":[{"filter":"datum.p==4&&datum.s=='b'"}],"mark":{"type":"circle","color":"#1c1c1c","size":50,"opacity":1},
"encoding":{"x":{"field":"x","type":"quantitative","axis":{"orient":"top","values":[2e-6,3e-6,4e-6,5e-6,6e-6,7e-6,8e-6,9e-6,2e-5,3e-5,4e-5,5e-5,6e-5,7e-5,8e-5,9e-5,2e-4,3e-4,4e-4,5e-4,6e-4,7e-4,8e-4,9e-4],"labels":false,"tickSize":-4,"title":null}},
"y":{"field":"y","type":"quantitative","axis":{"orient":"right","values":[0.05,0.1,0.15,0.25,0.3,0.35,0.45,0.5,0.55,0.65,0.7,0.75,0.85,0.9,0.95],"labels":false,"tickSize":-4,"title":null}}}},
{"data":{"values":[{}]},"mark":{"type":"rule","strokeDash":[3,3.4],"strokeWidth":3,"color":"#111"},"encoding":{"x":{"datum":8.74e-6,"type":"quantitative","axis":null}}},
{"data":{"values":[{}]},"mark":{"type":"text","text":"Regime\u00a0\u00a01","font":"DejaVu Serif","fontSize":27,"align":"left","baseline":"alphabetic","color":"#222"},"encoding":{"x":{"datum":1.64e-6,"type":"quantitative","axis":null},"y":{"datum":0.922,"type":"quantitative","axis":null}}},
{"data":{"values":[{}]},"mark":{"type":"text","text":"K","font":"Liberation Serif","fontStyle":"italic","fontSize":29,"align":"left","baseline":"alphabetic","color":"#222"},"encoding":{"x":{"datum":3.25e-5,"type":"quantitative","axis":null},"y":{"datum":0.033,"type":"quantitative","axis":null}}},
{"data":{"values":[{}]},"mark":{"type":"text","text":"com,sim","font":"DejaVu Serif","fontWeight":"bold","fontSize":17,"align":"left","baseline":"alphabetic","dx":21,"dy":7,"color":"#222"},"encoding":{"x":{"datum":3.25e-5,"type":"quantitative","axis":null},"y":{"datum":0.033,"type":"quantitative","axis":null}}},
{"data":{"values":[{}]},"mark":{"type":"text","text":"=0.19","font":"DejaVu Sans","fontSize":27,"align":"left","baseline":"alphabetic","dx":101,"color":"#222"},"encoding":{"x":{"datum":3.25e-5,"type":"quantitative","axis":null},"y":{"datum":0.033,"type":"quantitative","axis":null}}}
]},
{"width":379,"height":396,"resolve":{"axis":{"x":"independent","y":"independent"}},
"layer":[
{"transform":[{"filter":"datum.p==5&&datum.s=='g'&&datum.r>0"}],"mark":{"type":"line","color":"#9a9a9a","strokeWidth":8,"strokeCap":"round","strokeJoin":"round"},
"encoding":{"x":{"field":"x","type":"quantitative","scale":{"type":"log","domain":[2e-7,1e-4],"nice":false},"axis":{"orient":"bottom","values":[1e-6,1e-5,1e-4],"labelExpr":"datum.value < 5e-7 ? '10⁻⁷' : datum.value < 5e-6 ? '10⁻⁶' : datum.value < 5e-5 ? '10⁻⁵' : datum.value < 5e-4 ? '10⁻⁴' : '10⁻³'","tickSize":-8,"labelPadding":23,"title":"Flare Magnitude (W m⁻²)","titlePadding":7}},
"y":{"field":"y","type":"quantitative","scale":{"domain":[-0.05,1.05],"nice":false,"zero":false},"axis":{"orient":"left","values":[0,0.2,0.4,0.6,0.8,1],"format":".1f","tickSize":-8,"labelPadding":15,"title":null}},
"detail":{"field":"r"},"order":{"field":"y"}}},
{"transform":[{"filter":"datum.p==5&&datum.s=='g'"}],"mark":{"type":"circle","color":"#9a9a9a","size":50,"opacity":1},
"encoding":{"x":{"field":"x","type":"quantitative","axis":{"orient":"bottom","values":[3e-7,4e-7,5e-7,6e-7,7e-7,8e-7,9e-7,2e-6,3e-6,4e-6,5e-6,6e-6,7e-6,8e-6,9e-6,2e-5,3e-5,4e-5,5e-5,6e-5,7e-5,8e-5,9e-5],"labels":false,"tickSize":-4,"title":null}},
"y":{"field":"y","type":"quantitative","axis":{"orient":"left","values":[0.05,0.1,0.15,0.25,0.3,0.35,0.45,0.5,0.55,0.65,0.7,0.75,0.85,0.9,0.95],"labels":false,"tickSize":-4,"title":null}}}},
{"transform":[{"filter":"datum.p==5&&datum.s=='b'&&datum.r>0"}],"mark":{"type":"line","color":"#1c1c1c","strokeWidth":8,"strokeCap":"round","strokeJoin":"round"},
"encoding":{"x":{"field":"x","type":"quantitative","axis":{"orient":"top","values":[1e-6,1e-5,1e-4],"labels":false,"tickSize":-8,"title":null}},
"y":{"field":"y","type":"quantitative","axis":{"orient":"right","values":[0,0.2,0.4,0.6,0.8,1],"labels":false,"tickSize":-8,"title":null}},
"detail":{"field":"r"},"order":{"field":"y"}}},
{"transform":[{"filter":"datum.p==5&&datum.s=='b'"}],"mark":{"type":"circle","color":"#1c1c1c","size":50,"opacity":1},
"encoding":{"x":{"field":"x","type":"quantitative","axis":{"orient":"top","values":[3e-7,4e-7,5e-7,6e-7,7e-7,8e-7,9e-7,2e-6,3e-6,4e-6,5e-6,6e-6,7e-6,8e-6,9e-6,2e-5,3e-5,4e-5,5e-5,6e-5,7e-5,8e-5,9e-5],"labels":false,"tickSize":-4,"title":null}},
"y":{"field":"y","type":"quantitative","axis":{"orient":"right","values":[0.05,0.1,0.15,0.25,0.3,0.35,0.45,0.5,0.55,0.65,0.7,0.75,0.85,0.9,0.95],"labels":false,"tickSize":-4,"title":null}}}},
{"data":{"values":[{}]},"mark":{"type":"rule","strokeDash":[3,3.4],"strokeWidth":3,"color":"#111"},"encoding":{"x":{"datum":2.36e-6,"type":"quantitative","axis":null}}},
{"data":{"values":[{}]},"mark":{"type":"text","text":"Regime\u00a0\u00a02","font":"DejaVu Serif","fontSize":27,"align":"left","baseline":"alphabetic","color":"#222"},"encoding":{"x":{"datum":3.22e-7,"type":"quantitative","axis":null},"y":{"datum":0.922,"type":"quantitative","axis":null}}},
{"data":{"values":[{}]},"mark":{"type":"text","text":"K","font":"Liberation Serif","fontStyle":"italic","fontSize":29,"align":"left","baseline":"alphabetic","color":"#222"},"encoding":{"x":{"datum":3.63e-6,"type":"quantitative","axis":null},"y":{"datum":0.033,"type":"quantitative","axis":null}}},
{"data":{"values":[{}]},"mark":{"type":"text","text":"com,sim","font":"DejaVu Serif","fontWeight":"bold","fontSize":17,"align":"left","baseline":"alphabetic","dx":21,"dy":7,"color":"#222"},"encoding":{"x":{"datum":3.63e-6,"type":"quantitative","axis":null},"y":{"datum":0.033,"type":"quantitative","axis":null}}},
{"data":{"values":[{}]},"mark":{"type":"text","text":"=0.25","font":"DejaVu Sans","fontSize":27,"align":"left","baseline":"alphabetic","dx":101,"color":"#222"},"encoding":{"x":{"datum":3.63e-6,"type":"quantitative","axis":null},"y":{"datum":0.033,"type":"quantitative","axis":null}}}
]},
{"width":379,"height":396,"resolve":{"axis":{"x":"independent","y":"independent"}},
"layer":[
{"transform":[{"filter":"datum.p==6&&datum.s=='g'&&datum.r>0"}],"mark":{"type":"line","color":"#9a9a9a","strokeWidth":8,"strokeCap":"round","strokeJoin":"round"},
"encoding":{"x":{"field":"x","type":"quantitative","scale":{"type":"log","domain":[9e-8,8e-6],"nice":false},"axis":{"orient":"bottom","values":[1e-7,1e-6],"labelExpr":"datum.value < 5e-7 ? '10⁻⁷' : datum.value < 5e-6 ? '10⁻⁶' : datum.value < 5e-5 ? '10⁻⁵' : datum.value < 5e-4 ? '10⁻⁴' : '10⁻³'","tickSize":-8,"labelPadding":23,"title":"Flare Magnitude (W m⁻²)","titlePadding":7}},
"y":{"field":"y","type":"quantitative","scale":{"domain":[-0.05,1.05],"nice":false,"zero":false},"axis":{"orient":"left","values":[0,0.2,0.4,0.6,0.8,1],"format":".1f","tickSize":-8,"labelPadding":15,"title":null}},
"detail":{"field":"r"},"order":{"field":"y"}}},
{"transform":[{"filter":"datum.p==6&&datum.s=='g'"}],"mark":{"type":"circle","color":"#9a9a9a","size":50,"opacity":1},
"encoding":{"x":{"field":"x","type":"quantitative","axis":{"orient":"bottom","values":[2e-7,3e-7,4e-7,5e-7,6e-7,7e-7,8e-7,9e-7,2e-6,3e-6,4e-6,5e-6,6e-6,7e-6],"labels":false,"tickSize":-4,"title":null}},
"y":{"field":"y","type":"quantitative","axis":{"orient":"left","values":[0.05,0.1,0.15,0.25,0.3,0.35,0.45,0.5,0.55,0.65,0.7,0.75,0.85,0.9,0.95],"labels":false,"tickSize":-4,"title":null}}}},
{"transform":[{"filter":"datum.p==6&&datum.s=='b'&&datum.r>0"}],"mark":{"type":"line","color":"#1c1c1c","strokeWidth":8,"strokeCap":"round","strokeJoin":"round"},
"encoding":{"x":{"field":"x","type":"quantitative","axis":{"orient":"top","values":[1e-7,1e-6],"labels":false,"tickSize":-8,"title":null}},
"y":{"field":"y","type":"quantitative","axis":{"orient":"right","values":[0,0.2,0.4,0.6,0.8,1],"labels":false,"tickSize":-8,"title":null}},
"detail":{"field":"r"},"order":{"field":"y"}}},
{"transform":[{"filter":"datum.p==6&&datum.s=='b'"}],"mark":{"type":"circle","color":"#1c1c1c","size":50,"opacity":1},
"encoding":{"x":{"field":"x","type":"quantitative","axis":{"orient":"top","values":[2e-7,3e-7,4e-7,5e-7,6e-7,7e-7,8e-7,9e-7,2e-6,3e-6,4e-6,5e-6,6e-6,7e-6],"labels":false,"tickSize":-4,"title":null}},
"y":{"field":"y","type":"quantitative","axis":{"orient":"right","values":[0.05,0.1,0.15,0.25,0.3,0.35,0.45,0.5,0.55,0.65,0.7,0.75,0.85,0.9,0.95],"labels":false,"tickSize":-4,"title":null}}}},
{"data":{"values":[{}]},"mark":{"type":"rule","strokeDash":[3,3.4],"strokeWidth":3,"color":"#111"},"encoding":{"x":{"datum":7.2e-7,"type":"quantitative","axis":null}}},
{"data":{"values":[{}]},"mark":{"type":"text","text":"Regime\u00a0\u00a03","font":"DejaVu Serif","fontSize":27,"align":"left","baseline":"alphabetic","color":"#222"},"encoding":{"x":{"datum":1.27e-7,"type":"quantitative","axis":null},"y":{"datum":0.922,"type":"quantitative","axis":null}}},
{"data":{"values":[{}]},"mark":{"type":"text","text":"K","font":"Liberation Serif","fontStyle":"italic","fontSize":29,"align":"left","baseline":"alphabetic","color":"#222"},"encoding":{"x":{"datum":7.32e-7,"type":"quantitative","axis":null},"y":{"datum":0.033,"type":"quantitative","axis":null}}},
{"data":{"values":[{}]},"mark":{"type":"text","text":"com,sim","font":"DejaVu Serif","fontWeight":"bold","fontSize":17,"align":"left","baseline":"alphabetic","dx":21,"dy":7,"color":"#222"},"encoding":{"x":{"datum":7.32e-7,"type":"quantitative","axis":null},"y":{"datum":0.033,"type":"quantitative","axis":null}}},
{"data":{"values":[{}]},"mark":{"type":"text","text":"=0.26","font":"DejaVu Sans","fontSize":27,"align":"left","baseline":"alphabetic","dx":101,"color":"#222"},"encoding":{"x":{"datum":7.32e-7,"type":"quantitative","axis":null},"y":{"datum":0.033,"type":"quantitative","axis":null}}}
]}
],
"config":{
"view":{"stroke":"#333","strokeWidth":2},
"axis":{"grid":false,"domain":false,"tickColor":"#333","tickWidth":1.5,"labelFont":"DejaVu Serif","labelFontWeight":"bold","labelFontSize":20,"labelColor":"#222","titleFont":"DejaVu Serif","titleFontWeight":"bold","titleFontSize":25,"titleColor":"#222","labelFlush":false,"labelOverlap":false}
}
}
